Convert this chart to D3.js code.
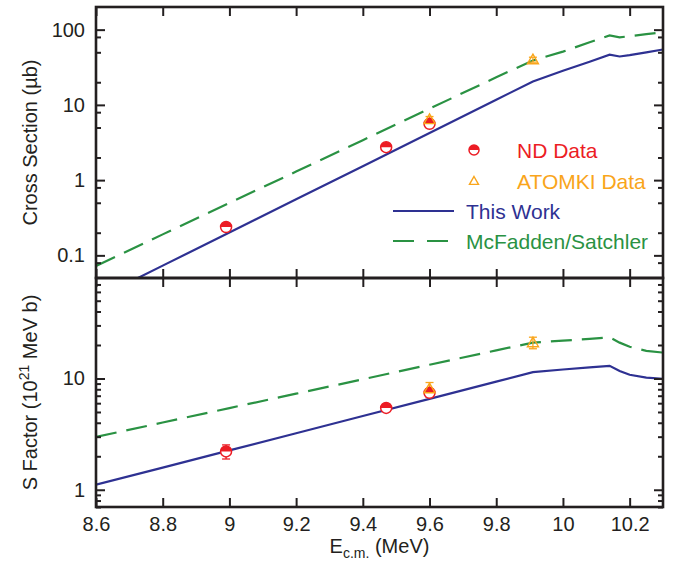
<!DOCTYPE html>
<html>
<head>
<meta charset="utf-8">
<script src="https://cdn.jsdelivr.net/npm/d3@7"></script>
<style>
  body { margin: 0; background: #fff; }
  svg { display: block; font-family: "Liberation Sans", Arial, sans-serif; }
</style>
</head>
<body>
<div id="chart"></div>
<script>
// ---- data ----
const xTicks = [8.6, 8.8, 9, 9.2, 9.4, 9.6, 9.8, 10, 10.2];
const csTicks = [0.1, 1, 10, 100];
const csMinor = [0.08, 0.2, 0.5, 0.8, 2, 5, 8, 20, 50, 80];
const sfTicks = [1, 10];
const sfMinor = [0.7, 0.8, 0.9, 2, 3, 4, 5, 6, 7, 8, 9, 20, 30, 40, 50, 60, 70];

// theory curves (E in MeV)
const curveE = [8.6, 8.8, 9.0, 9.2, 9.4, 9.6, 9.8, 9.91, 10.0, 10.08, 10.14, 10.17, 10.2, 10.25, 10.3];
const thisWorkCS = [0.0264, 0.073, 0.201, 0.556, 1.53, 4.24, 11.7, 20.5, 28.5, 37.5, 46.5, 44.0, 45.9, 50.0, 54.5];
const mcfaddenCS = [0.072, 0.19, 0.497, 1.30, 3.40, 8.9, 23.3, 39, 51, 68, 84, 79, 82, 87, 92];
const thisWorkSF = [1.11, 1.58, 2.26, 3.22, 4.60, 6.56, 9.36, 11.4, 12.05, 12.6, 13.0, 11.7, 10.8, 10.2, 9.95];
const mcfaddenSF = [2.98, 4.02, 5.42, 7.30, 9.84, 13.3, 17.9, 21.0, 21.9, 22.7, 23.4, 21.0, 19.3, 17.7, 17.1];

// measurements
const ndE = [8.99, 9.47, 9.60];
const ndCS = [0.238, 2.74, 5.6];
const ndCSErr = [0.02, 0.15, 0.4];
const ndSF = [2.21, 5.44, 7.43];
const ndSFErr = [0.32, 0.3, 0.6];

const atomkiE = [9.60, 9.91];
const atomkiCS = [6.4, 40];
const atomkiCSErr = [0.6, 3];
const atomkiSF = [8.1, 21.0];
const atomkiSFErr = [1.1, 2.5];

// ---- layout ----
const width = 683, height = 567;
const left = 96, right = 663;
const topPanel = { y0: 7, y1: 278 };
const botPanel = { y0: 278, y1: 507 };

const RED = "#ec1c24", ORANGE = "#f9a51b", NAVY = "#2e3192", GREEN = "#2a9243";

const svg = d3.select("#chart").append("svg")
  .attr("width", width).attr("height", height);

const x = d3.scaleLinear().domain([8.6, 10.3]).range([left, right]);
const yCS = d3.scaleLog().domain([0.05, 200]).range([topPanel.y1, topPanel.y0]);
const ySF = d3.scaleLog().domain([0.7, 80]).range([botPanel.y1, botPanel.y0]);

const defs = svg.append("defs");
const addClip = (id, p) => defs.append("clipPath").attr("id", id)
  .append("rect").attr("x", left).attr("y", p.y0).attr("width", right - left).attr("height", p.y1 - p.y0);
addClip("clip-top", topPanel);
addClip("clip-bot", botPanel);

// draw one panel: curves, points, ticks
const drawPanel = (p, y, clipId, twVals, mcVals, nd, ndErr, at, atErr, major, minor) => {
  const g = svg.append("g");
  const plot = g.append("g").attr("clip-path", `url(#${clipId})`);

  const line = vals => d3.line()
    .x((d, i) => x(curveE[i]))
    .y(d => y(d))(vals);

  plot.append("path").attr("d", line(mcVals))
    .attr("fill", "none").attr("stroke", GREEN).attr("stroke-width", 2.2)
    .attr("stroke-dasharray", "21,10");
  plot.append("path").attr("d", line(twVals))
    .attr("fill", "none").attr("stroke", NAVY).attr("stroke-width", 2.2);

  // error bars
  const errBar = (E, vals, errs, color) => {
    E.forEach((e, i) => {
      const cx = x(e), yt = y(vals[i] + errs[i]), yb = y(vals[i] - errs[i]);
      plot.append("line").attr("x1", cx).attr("x2", cx).attr("y1", yt).attr("y2", yb)
        .attr("stroke", color).attr("stroke-width", 1.3);
      [yt, yb].forEach(yy => plot.append("line")
        .attr("x1", cx - 4).attr("x2", cx + 4).attr("y1", yy).attr("y2", yy)
        .attr("stroke", color).attr("stroke-width", 1.3));
    });
  };
  errBar(ndE, nd, ndErr, RED);
  errBar(atomkiE, at, atErr, ORANGE);

  ndE.forEach((e, i) => halfCircle(plot, x(e), y(nd[i]), 5.5));
  atomkiE.forEach((e, i) => triangle(plot, x(e), y(at[i]), 5.5));

  // ticks: left / right
  const yAxis = (axisFn, xpos, vals, size, labels) => {
    const a = g.append("g").attr("transform", `translate(${xpos},0)`)
      .call(axisFn(y).tickValues(vals).tickSize(-size).tickPadding(11)
        .tickFormat(labels ? d3.format("~g") : ""));
    a.select(".domain").remove();
    a.selectAll(".tick line").attr("stroke", "#231f20").attr("stroke-width", 2);
    a.selectAll("text").attr("font-size", 20).attr("fill", "#231f20");
  };
  yAxis(d3.axisLeft, left, major, 9, true);
  yAxis(d3.axisLeft, left, minor, 5, false);
  yAxis(d3.axisRight, right, major, 9, false);
  yAxis(d3.axisRight, right, minor, 5, false);

  // ticks: top / bottom edges of the panel
  const xAxis = (axisFn, ypos, labels) => {
    const a = g.append("g").attr("transform", `translate(0,${ypos})`)
      .call(axisFn(x).tickValues(xTicks).tickSize(-9).tickPadding(10)
        .tickFormat(labels ? d3.format("~g") : ""));
    a.select(".domain").remove();
    a.selectAll(".tick line").attr("stroke", "#231f20").attr("stroke-width", 2);
    a.selectAll("text").attr("font-size", 20).attr("fill", "#231f20");
    return a;
  };
  xAxis(d3.axisTop, p.y0, false);
  xAxis(d3.axisBottom, p.y1, p === botPanel);

  g.append("rect").attr("x", left).attr("y", p.y0)
    .attr("width", right - left).attr("height", p.y1 - p.y0)
    .attr("fill", "none").attr("stroke", "#231f20").attr("stroke-width", 2.6);
};

// ND marker: circle with top half filled
function halfCircle(sel, cx, cy, r) {
  sel.append("circle").attr("cx", cx).attr("cy", cy).attr("r", r)
    .attr("fill", "#fff").attr("stroke", RED).attr("stroke-width", 1.5);
  sel.append("path")
    .attr("d", `M${cx - r},${cy} A${r},${r} 0 0 1 ${cx + r},${cy} Z`)
    .attr("fill", RED);
}

// ATOMKI marker: open triangle
function triangle(sel, cx, cy, r) {
  sel.append("path")
    .attr("d", `M${cx},${cy - r} L${cx + r},${cy + r * 0.75} L${cx - r},${cy + r * 0.75} Z`)
    .attr("fill", "none").attr("stroke", ORANGE).attr("stroke-width", 1.4);
}

drawPanel(topPanel, yCS, "clip-top", thisWorkCS, mcfaddenCS,
  ndCS, ndCSErr, atomkiCS, atomkiCSErr, csTicks, csMinor);
drawPanel(botPanel, ySF, "clip-bot", thisWorkSF, mcfaddenSF,
  ndSF, ndSFErr, atomkiSF, atomkiSFErr, sfTicks, sfMinor);

// ---- axis titles ----
svg.append("text")
  .attr("transform", `translate(37,${(topPanel.y0 + topPanel.y1) / 2}) rotate(-90)`)
  .attr("text-anchor", "middle").attr("font-size", 20).attr("fill", "#231f20")
  .text("Cross Section (µb)");

const sfTitle = svg.append("text")
  .attr("transform", `translate(37,${(botPanel.y0 + botPanel.y1) / 2}) rotate(-90)`)
  .attr("text-anchor", "middle").attr("font-size", 20).attr("fill", "#231f20");
sfTitle.append("tspan").text("S Factor (10");
sfTitle.append("tspan").attr("font-size", 14).attr("dy", -8).text("21");
sfTitle.append("tspan").attr("dy", 8).text(" MeV b)");

const xTitle = svg.append("text")
  .attr("x", (left + right) / 2).attr("y", 553)
  .attr("text-anchor", "middle").attr("font-size", 20).attr("fill", "#231f20");
xTitle.append("tspan").text("E");
xTitle.append("tspan").attr("font-size", 14).attr("dy", 5).text("c.m.");
xTitle.append("tspan").attr("dy", -5).text(" (MeV)");

// ---- legend ----
const legend = svg.append("g");
const legendItems = [
  { label: "ND Data", color: RED, kind: "nd", y: 150 },
  { label: "ATOMKI Data", color: ORANGE, kind: "atomki", y: 181 },
  { label: "This Work", color: NAVY, kind: "solid", y: 211 },
  { label: "McFadden/Satchler", color: GREEN, kind: "dash", y: 241 }
];
legendItems.forEach(d => {
  if (d.kind === "nd") halfCircle(legend, 474, d.y, 5);
  if (d.kind === "atomki") triangle(legend, 474, d.y, 4.5);
  if (d.kind === "solid" || d.kind === "dash") {
    legend.append("line").attr("x1", 393).attr("x2", 454).attr("y1", d.y).attr("y2", d.y)
      .attr("stroke", d.color).attr("stroke-width", 2.2)
      .attr("stroke-dasharray", d.kind === "dash" ? "21,13" : null);
  }
  const tx = d.kind === "nd" || d.kind === "atomki" ? 517 : 466;
  legend.append("text").attr("x", tx).attr("y", d.y).attr("dy", "0.36em")
    .attr("font-size", 21).attr("fill", d.color).text(d.label);
});
</script>
</body>
</html>
